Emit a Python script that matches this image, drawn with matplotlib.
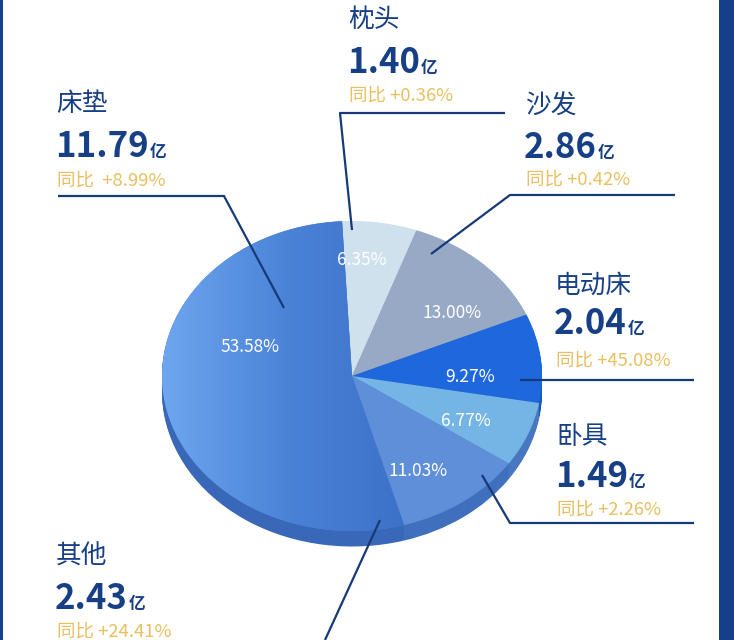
import numpy as np
import matplotlib
matplotlib.use("Agg")
import matplotlib.pyplot as plt
from matplotlib.colors import LinearSegmentedColormap

plt.rcParams['font.family'] = ['Noto Sans CJK SC', 'DejaVu Sans']

# ---------------- data ----------------
categories = ['枕头', '沙发', '电动床', '卧具', '其他', '床垫']
shares = [6.35, 13.00, 9.27, 6.77, 11.03, 53.58]          # % of revenue
revenue = ['1.40', '2.86', '2.04', '1.49', '2.43', '11.79']  # 亿
yoy = ['+0.36%', '+0.42%', '+45.08%', '+2.26%', '+24.41%', '+8.99%']

# ---------------- style ----------------
top_colors = ['#cfe1ec', '#98a9c6', '#1f67dc', '#74b5e6', '#5e8fd8', '#4a80d6']
side_colors = ['#9fb6cc', '#6f83a8', '#1a55b8', '#4777c0', '#4070bd', '#3a68b8']
NAVY = '#163f86'
GOLD = '#e9bf5f'

W, H = 734, 640
fig = plt.figure(figsize=(W / 100, H / 100), dpi=100)
fig.patch.set_facecolor('white')

# pie axes: unit circle mapped to an ellipse centred at (352, 376) px, radii 190 x 155 px
cx, cy, rx, ry = 352, 376, 190, 155
axp = fig.add_axes([0, 0, 1, 1])
START = 93
depth = 0.10
for d in np.linspace(depth, 0.0, 14)[:-1]:
    axp.pie(shares, colors=side_colors, startangle=START, counterclock=False,
            center=(0, -d), wedgeprops=dict(linewidth=0, antialiased=True))
wedges, _, autotexts = axp.pie(
    shares, colors=top_colors, startangle=START, counterclock=False,
    autopct='%.2f%%', pctdistance=0.66,
    wedgeprops=dict(linewidth=0, antialiased=True),
    textprops=dict(color='white', fontsize=12.5))

# percentage label placement (pixel positions, converted to pie units)
pct_pos = [(362, 260), (452, 313), (470, 377), (466, 421), (418, 471), (250, 347)]
for t, (px, py) in zip(autotexts, pct_pos):
    t.set_position(((px - cx) / rx, (cy - py) / ry))
    t.set_zorder(10)

# gradient on the large slice
cmap = LinearSegmentedColormap.from_list('g', ['#6ea6f0', '#4a82d6', '#3b6fc6'])
grad = np.tile(np.linspace(0, 1, 256), (10, 1))
im = axp.imshow(grad, extent=(-1, 0.35, -1, 1), cmap=cmap, aspect='auto', zorder=2)
im.set_clip_path(wedges[-1])

axp.set_aspect('auto')
axp.set_xlim(-cx / rx, (W - cx) / rx)
axp.set_ylim((cy - H) / ry, cy / ry)
axp.axis('off')

# overlay axes in pixel coordinates for annotations
ax = fig.add_axes([0, 0, 1, 1], facecolor='none')
ax.set_xlim(0, W)
ax.set_ylim(H, 0)
ax.axis('off')

# borders
ax.add_patch(plt.Rectangle((719, 0), 15, H, color='#153f8a', lw=0))
ax.add_patch(plt.Rectangle((0, 0), 3, H, color='#153f8a', lw=0))

renderer = fig.canvas.get_renderer()

# label layout: (x, name_y, value_baseline, yoy_y, gap)
layout = {
    '床垫': (55, 104, 157, 181, '  '),
    '枕头': (347, 20, 73, 96, ' '),
    '沙发': (524, 107, 158, 180, ' '),
    '电动床': (554, 286, 334, 361, ' '),
    '卧具': (555, 437, 487, 510, ' '),
    '其他': (55, 557, 609, 632, ' '),
}
for cat, val, y in zip(categories, revenue, yoy):
    x, ny, vb, yy, gap = layout[cat]
    ax.text(x + 1, ny, cat, fontsize=18.5, color=NAVY, va='center', ha='left')
    tv = ax.text(x, vb, val, fontsize=25, fontweight='bold', color=NAVY,
                 va='baseline', ha='left')
    bb = tv.get_window_extent(renderer)
    xr = ax.transData.inverted().transform((bb.x1, bb.y0))[0]
    ax.text(xr + 1, vb, '亿', fontsize=12, color=NAVY, va='baseline', ha='left',
            fontweight='bold')
    ax.text(x + 2, yy, '同比' + gap + y, fontsize=13.3, color=GOLD, va='center', ha='left')

# leader lines
lw = 1.6
lines = [
    [(58, 196), (224, 196), (284, 308)],      # 床垫
    [(505, 113), (340, 113), (352, 230)],     # 枕头
    [(675, 195), (510, 195), (431, 254)],     # 沙发
    [(694, 380), (520, 380)],                 # 电动床
    [(694, 523), (510, 523), (482, 475)],     # 卧具
    [(380, 520), (325, 640)],                 # 其他
]
for pts in lines:
    xs, ys = zip(*pts)
    ax.plot(xs, ys, color='#163a78', lw=lw, solid_capstyle='butt')

fig.savefig('out.png', dpi=100, facecolor='white')
